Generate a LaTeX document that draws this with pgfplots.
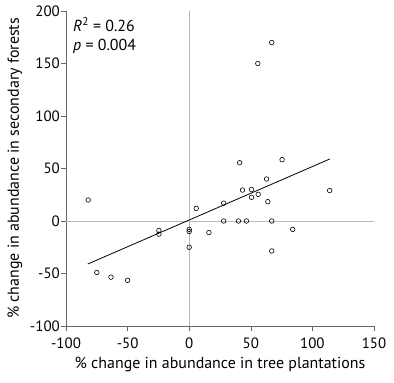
\documentclass[border=0pt]{standalone}
\usepackage{pgfplots}
\pgfplotsset{compat=1.18}
\usepackage{fontspec}
\setmainfont{PT Sans}
\begin{document}
\begin{tikzpicture}
\begin{axis}[name=ax,
  scale only axis, width=308bp, height=315bp,
  xmin=-100, xmax=150, ymin=-100, ymax=200,
  axis lines=left,
  axis line style={gray!80!black, -},
  xtick={-100,-50,0,50,100,150},
  ytick={-100,-50,0,50,100,150,200},
  tick style={gray!80!black, thin},
  tick align=outside,
  major tick length=5bp,
  /pgf/number format/assume math mode=true,
  tick label style={font=\fontsize{15}{17}\selectfont, inner sep=0pt},
  xticklabel style={anchor=north, yshift=-7bp},
  yticklabel style={anchor=east, xshift=-1bp},
  clip=false,
]
\draw[gray!55, thin] (axis cs:0,-100) -- (axis cs:0,200);
\draw[gray!55, thin] (axis cs:-100,0) -- (axis cs:150,0);
\addplot[only marks, mark=o, mark size=2.3bp, mark options={black, line width=0.6pt}] coordinates {
(-82,20) (-75,-49) (-63.5,-53.5) (-50,-56.5) (-24.6,-9) (-24.6,-12.5)
(0,-8) (0,-10) (0,-25) (5.7,12) (16,-11) (28,17) (28,0) (40,0) (46.5,0) (67,0)
(43.3,29.5) (50.6,30) (50.6,22.6) (56,25.4) (63.8,18.4) (62.8,40) (84,-8)
(67,-28.5) (114,29) (67,170) (55.7,150) (41,55.5) (75.4,58.4)
};
\addplot[black, line width=0.8pt] coordinates {(-82.4,-41) (114,59)};
\node[anchor=base west, font=\fontsize{16}{18}\selectfont, inner sep=0pt] at ([xshift=7bp,yshift=-20.7bp]rel axis cs:0,1) {\textit{R}\textsuperscript{2} = 0.26};
\node[anchor=base west, font=\fontsize{16}{18}\selectfont, inner sep=0pt] at ([xshift=7bp,yshift=-39bp]rel axis cs:0,1) {\textit{p} = 0.004};
\node[anchor=base, font=\fontsize{16}{18}\selectfont, inner sep=0pt] at ([yshift=-42bp]rel axis cs:0.5,0) {\% change in abundance in tree plantations};
\node[anchor=base, rotate=90, font=\fontsize{16}{18}\selectfont, inner sep=0pt] at ([xshift=-47bp]rel axis cs:0,0.5) {\% change in abundance in secondary forests};
\end{axis}
\path ([xshift=-66bp,yshift=-57bp]ax.south west) rectangle ([xshift=20bp,yshift=11bp]ax.north east);
\end{tikzpicture}
\end{document}
